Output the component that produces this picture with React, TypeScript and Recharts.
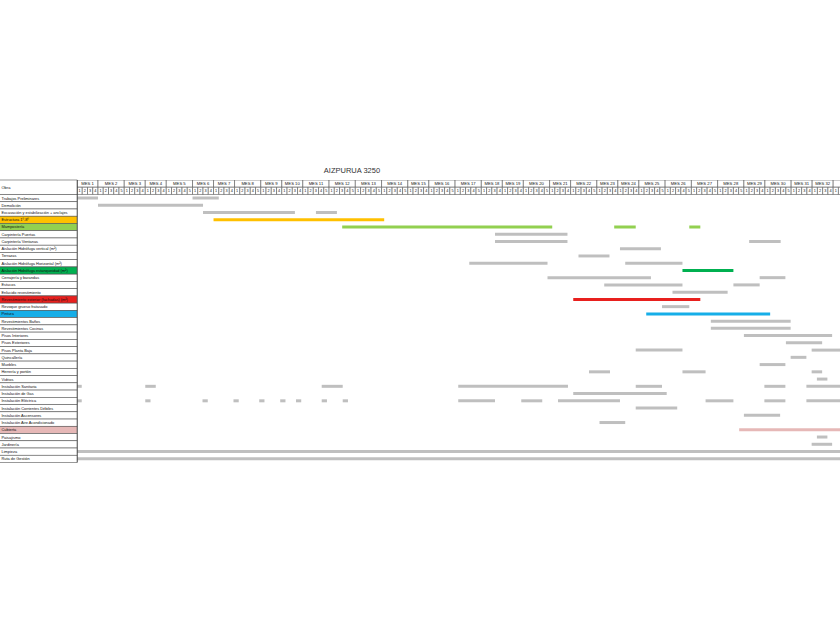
// Carta Gantt "AIZPURUA 3250" — partidas de obra por semana.
// The plot stops at the page edge, part-way into MES 33, like the cropped
// spreadsheet it comes from.

import { BarChart, Bar, Cell, XAxis, YAxis, ReferenceArea } from "recharts";

const FONT = "'Liberation Sans', Arial, sans-serif";
const GRAY = "#BFBFBF";
const LINE = "#555";

const TITLE = "AIZPURUA 3250";
const HEAD_LABEL = "Obra";
const HDR_MES = "__mes";
const HDR_SEM = "__sem";

// weeks in each month (MES 1 … MES 33)
const MONTH_WEEKS = [
  4, 5, 4, 4, 5, 4, 4, 5, 4, 4, 5, 5, 5, 5, 4, 5, 5, 4, 4, 5, 4, 5, 4, 4, 5, 5,
  5, 5, 4, 5, 4, 4, 4,
];
// weeks visible up to the right edge of the page
const VISIBLE_WEEKS = 145.3;

const TASKS = [
  "Trabajos Preliminares",
  "Demolición",
  "Excavación y estabilización + anclajes",
  "Estructura 1º-8º",
  "Mampostería",
  "Carpintería Puertas",
  "Carpintería Ventanas",
  "Aislación Hidrófuga vertical (m²)",
  "Terrazas",
  "Aislación Hidrófuga Horizontal (m²)",
  "Aislación Hidrófuga estanqueidad (m²)",
  "Cerrajería y barandas",
  "Estucos",
  "Enlucido revestimiento",
  "Revestimiento exterior (fachadas) (m²)",
  "Revoque grueso fratasado",
  "Pintura",
  "Revestimientos Baños",
  "Revestimientos Cocinas",
  "Pisos Interiores",
  "Pisos Exteriores",
  "Pisos Planta Baja",
  "Quincallería",
  "Muebles",
  "Herrería y portón",
  "Vidrios",
  "Instalación Sanitaria",
  "Instalación de Gas",
  "Instalación Eléctrica",
  "Instalación Corrientes Débiles",
  "Instalación Ascensores",
  "Instalación Aire Acondicionado",
  "Cubierta",
  "Paisajismo",
  "Jardinería",
  "Limpieza",
  "Ruta de Gestión",
];

// highlighted partidas: label cell and bar share the colour
const HIGHLIGHT: Record<string, string> = {
  "Estructura 1º-8º": "#FFC000",
  "Mampostería": "#92D050",
  "Aislación Hidrófuga estanqueidad (m²)": "#00B050",
  "Revestimiento exterior (fachadas) (m²)": "#E8201E",
  "Pintura": "#16AEE8",
  "Cubierta": "#E6B8B7",
};

// [start week, end week] segments, same order as TASKS
const SEGMENTS: number[][][] = [
  [[0, 4], [22, 27]],
  [[4, 24]],
  [[24, 41.5], [45.5, 49.5]],
  [[26, 58.5]],
  [[50.5, 90.5], [102.3, 106.4], [116.6, 118.7]],
  [[79.6, 93.4]],
  [[79.6, 93.4], [128, 134]],
  [[103.4, 111.2]],
  [[95.5, 101.4]],
  [[74.7, 89.6], [104.4, 115.3]],
  [[115.3, 125]],
  [[89.6, 109.3], [130, 134.9]],
  [[100.4, 115.3], [125, 130]],
  [[113.4, 123.9]],
  [[94.5, 118.7]],
  [[111.4, 116.6]],
  [[108.4, 132]],
  [[120.7, 135.9]],
  [[120.7, 135.9]],
  [[127, 143.8]],
  [[135, 141.9]],
  [[106.4, 115.3], [139.9, 152]],
  [[135.9, 138.9]],
  [[130, 134.9]],
  [[97.5, 101.5], [115.3, 119.7], [139.9, 141.9]],
  [[140.9, 142.9]],
  [[0, 0.9], [13, 15], [46.6, 50.6], [72.6, 93.5], [106.4, 111.4], [130.9, 134.9], [138.9, 152]],
  [[94.5, 112.3]],
  [
    [0, 0.9], [13, 14], [23.9, 24.9], [29.8, 30.8], [34.7, 35.7], [38.7, 39.7],
    [41.7, 42.7], [46.6, 47.6], [50.6, 51.6], [72.6, 79.6], [84.6, 88.6],
    [91.6, 103.4], [119.7, 125], [130.9, 134.9], [138.9, 152],
  ],
  [[106.4, 114.3]],
  [[127, 133.9]],
  [[99.5, 104.4]],
  [[126.1, 152]],
  [[140.9, 142.9]],
  [[139.9, 143.8]],
  [[0, 152]],
  [[0, 152]],
];

const MAX_SEG = Math.max(...SEGMENTS.map((s) => s.length));

// layout
const AXIS_W = 77;
const PLOT_W = 763;
const PLOT_TOP = 180;
const PLOT_BOTTOM = 462.5;
const CHART_H = 630;
const TEXT_X = 1.5;

const months = MONTH_WEEKS.map((n, i) => {
  const start = MONTH_WEEKS.slice(0, i).reduce((a, b) => a + b, 0);
  return { label: `MES ${i + 1}`, start, end: start + n, weeks: n };
});

const rows = [
  { name: HDR_MES },
  { name: HDR_SEM },
  ...TASKS.map((name, i) => {
    const row: Record<string, number | string> = { name };
    for (let k = 0; k < MAX_SEG; k++) {
      row[`g${k}`] = 0;
      row[`s${k}`] = 0;
    }
    let prev = 0;
    SEGMENTS[i].forEach(([a, b], k) => {
      row[`g${k}`] = a - prev;
      row[`s${k}`] = b - a;
      prev = b;
    });
    return row;
  }),
];

const ROW_H = (PLOT_BOTTOM - PLOT_TOP) / rows.length;

function LabelCell(props: any) {
  const { y, payload } = props;
  const v = payload?.value as string;
  if (v === HDR_SEM) return null;
  if (v === HDR_MES) {
    return (
      <g>
        <rect x={-1} y={y - ROW_H / 2} width={AXIS_W + 1} height={ROW_H * 2} fill="#fff" stroke={LINE} strokeWidth={0.6} />
        <text x={TEXT_X} y={y + ROW_H / 2} dy={1.4} fontSize={4} fontFamily={FONT} fill="#111">
          {HEAD_LABEL}
        </text>
      </g>
    );
  }
  return (
    <g>
      <rect
        x={-1}
        y={y - ROW_H / 2}
        width={AXIS_W + 1}
        height={ROW_H}
        fill={HIGHLIGHT[v] ?? "#fff"}
        stroke={LINE}
        strokeWidth={0.6}
      />
      <text x={TEXT_X} y={y} dy={1.4} fontSize={3.9} fontFamily={FONT} fill="#111">
        {v}
      </text>
    </g>
  );
}

export default function App() {
  return (
    <div style={{ position: "absolute", left: 0, top: 0, width: 840, height: 630, overflow: "hidden", background: "#fff" }}>
      <div
        style={{
          position: "absolute",
          left: 302,
          width: 100,
          top: 166,
          textAlign: "center",
          fontSize: 7.5,
          fontFamily: FONT,
          color: "#333",
        }}
      >
        {TITLE}
      </div>
      <div style={{ position: "absolute", left: 0, top: 0 }}>
        <BarChart
          width={AXIS_W + PLOT_W}
          height={CHART_H}
          data={rows}
          layout="vertical"
          margin={{ top: PLOT_TOP, right: 0, bottom: CHART_H - PLOT_BOTTOM, left: 0 }}
          barSize={3}
        >
          <XAxis
            type="number"
            domain={[0, VISIBLE_WEEKS]}
            allowDataOverflow
            height={0}
            tick={false}
            tickLine={false}
            axisLine={{ stroke: "#333", strokeWidth: 1.2 }}
          />
          <XAxis
            xAxisId="top"
            orientation="top"
            type="number"
            domain={[0, VISIBLE_WEEKS]}
            allowDataOverflow
            height={0}
            tick={false}
            tickLine={false}
            axisLine={{ stroke: "#333", strokeWidth: 1.2 }}
          />
          <YAxis
            type="category"
            dataKey="name"
            width={AXIS_W}
            interval={0}
            tick={<LabelCell />}
            tickLine={false}
            axisLine={{ stroke: "#333", strokeWidth: 1.2 }}
          />
          {months.map((m) => (
            <ReferenceArea
              key={m.label}
              x1={m.start}
              x2={m.end}
              y1={HDR_MES}
              y2={HDR_MES}
              ifOverflow="hidden"
              fill="#fff"
              fillOpacity={1}
              stroke={LINE}
              strokeWidth={0.6}
              label={
                m.end <= VISIBLE_WEEKS
                  ? { value: m.label, position: "center", fontSize: 4.2, fill: "#111", fontFamily: FONT }
                  : undefined
              }
            />
          ))}
          {months.flatMap((m) =>
            Array.from({ length: m.weeks }, (_, w) => (
              <ReferenceArea
                key={`${m.label}-${w}`}
                x1={m.start + w}
                x2={m.start + w + 1}
                y1={HDR_SEM}
                y2={HDR_SEM}
                ifOverflow="hidden"
                fill="#fff"
                fillOpacity={1}
                stroke={LINE}
                strokeWidth={0.6}
                label={
                  m.start + w + 1 <= VISIBLE_WEEKS
                    ? { value: String(w + 1), position: "center", fontSize: 3.8, fill: "#111", fontFamily: FONT }
                    : undefined
                }
              />
            ))
          )}
          {Array.from({ length: MAX_SEG }, (_, k) => [
            <Bar key={`g${k}`} dataKey={`g${k}`} stackId="t" fill="transparent" isAnimationActive={false} />,
            <Bar key={`s${k}`} dataKey={`s${k}`} stackId="t" isAnimationActive={false}>
              {rows.map((r) => (
                <Cell key={r.name as string} fill={HIGHLIGHT[r.name as string] ?? GRAY} />
              ))}
            </Bar>,
          ])}
        </BarChart>
      </div>
    </div>
  );
}
